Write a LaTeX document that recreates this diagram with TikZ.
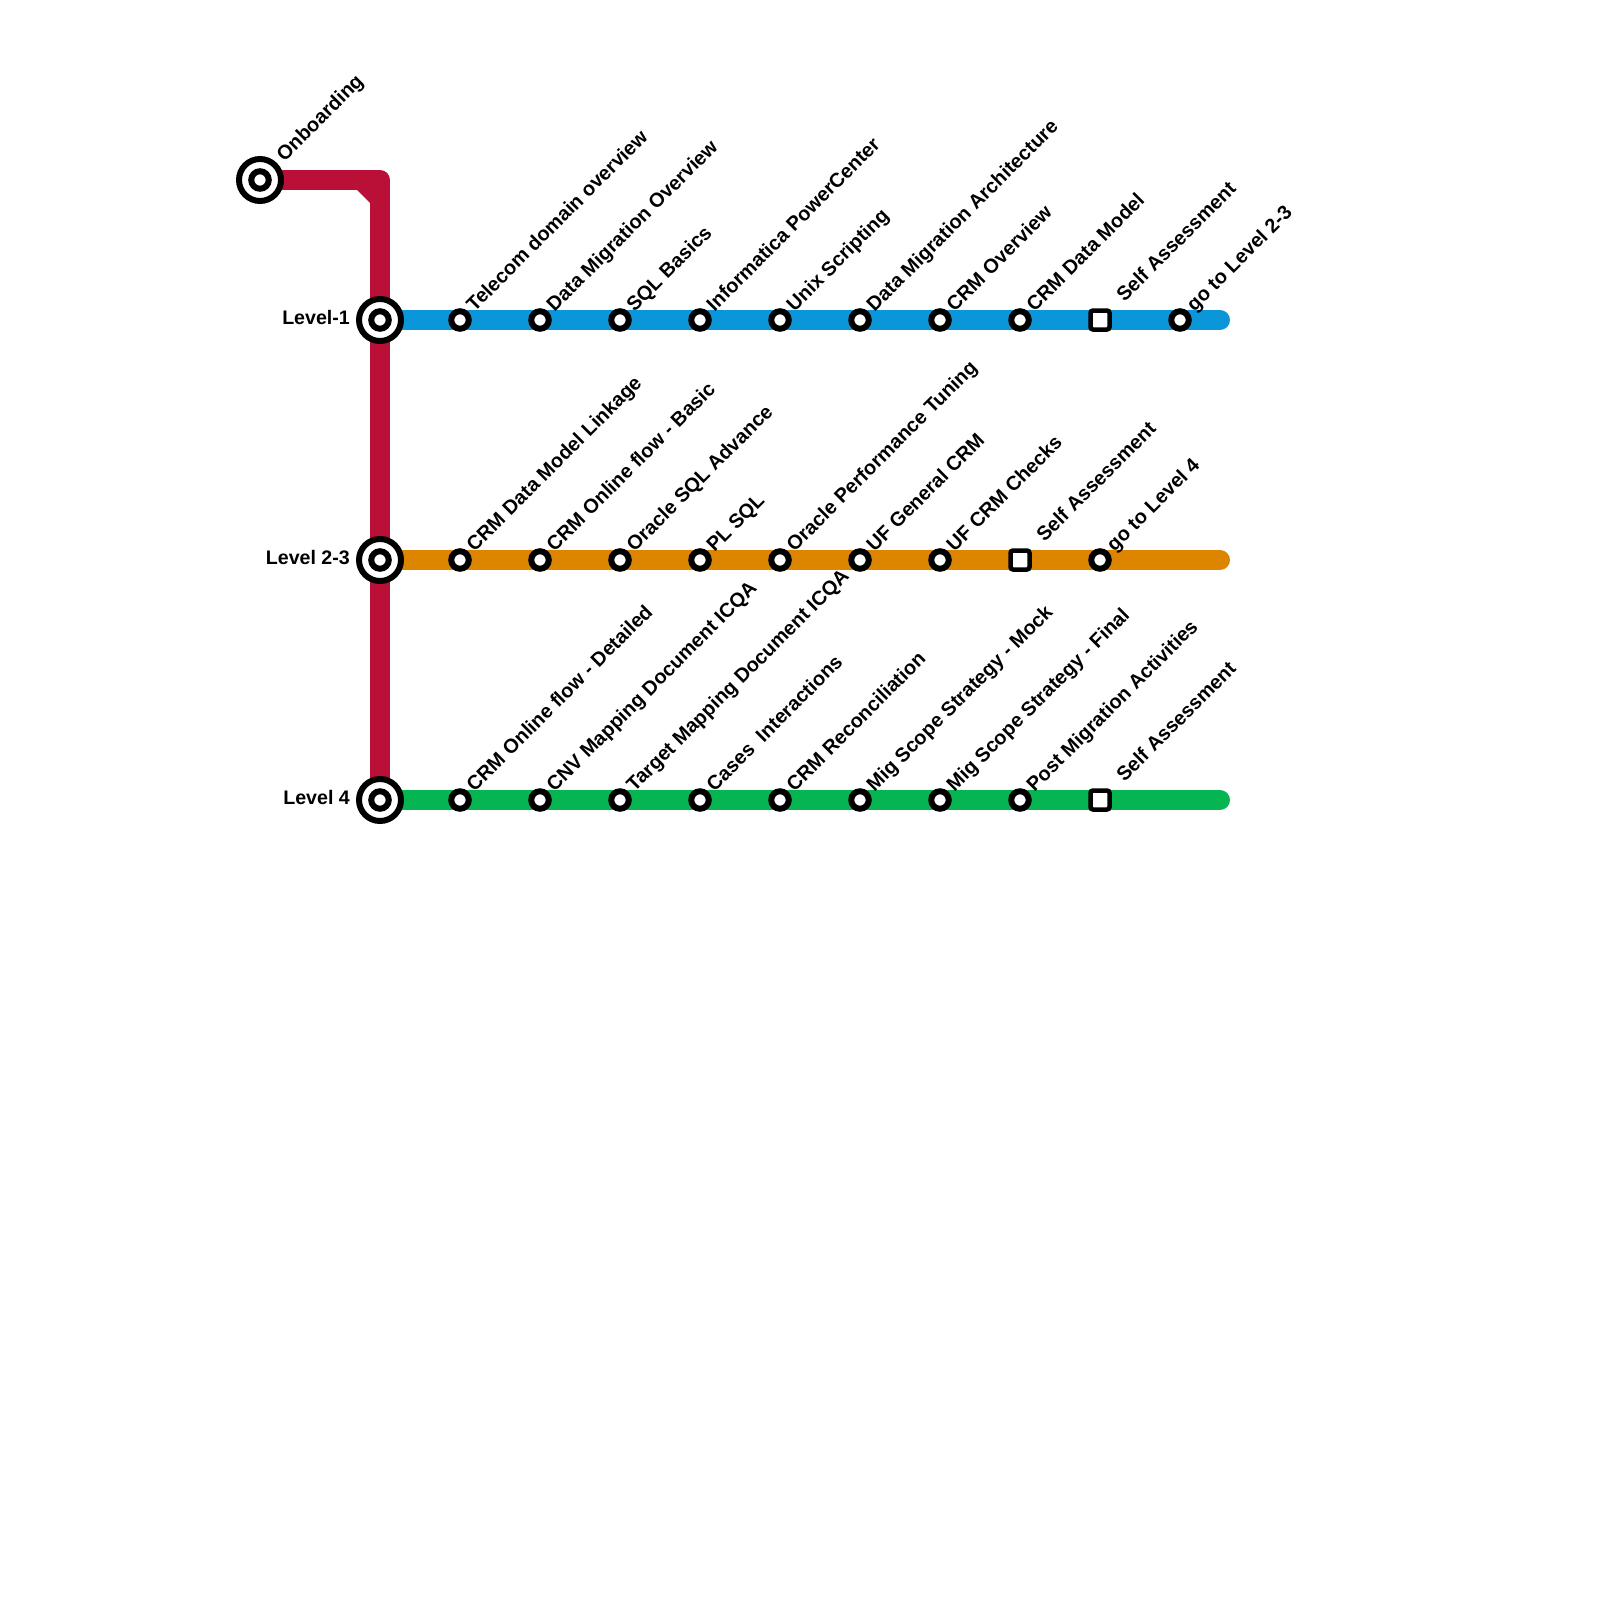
\documentclass[tikz,border=0pt]{standalone}
\usepackage{fontspec}
\setmainfont{Liberation Sans}
\usetikzlibrary{positioning,backgrounds}
\definecolor{levelred}{RGB}{186,16,56}
\definecolor{levelblue}{RGB}{10,150,216}
\definecolor{levelorange}{RGB}{222,133,0}
\definecolor{levelgreen}{RGB}{4,181,82}
\tikzset{
  stop/.style={circle, draw=black, line width=6pt, fill=white, minimum size=17.5pt, inner sep=0pt},
  gate/.style={rectangle, rounded corners=2.5pt, draw=black, line width=4.5pt, fill=white, minimum size=19pt, inner sep=0pt},
  hub/.style={circle, draw=black, line width=6pt, fill=white, minimum size=42pt, inner sep=0pt},
  tag/.style={anchor=base west, rotate=45, inner sep=0pt, xshift=15.5pt, yshift=-5pt, font=\bfseries\fontsize{19.9}{22}\selectfont},
  fartag/.style={tag, xshift=14pt, yshift=0pt},
  hubtag/.style={anchor=base east, inner sep=0pt, xshift=-30pt, yshift=-4pt, font=\bfseries\fontsize{19.6}{22}\selectfont},
  redline/.style={draw=levelred, line width=20pt, line join=round},
  blueline/.style={draw=levelblue, line width=20pt, line cap=round},
  orangeline/.style={draw=levelorange, line width=20pt, line cap=round},
  greenline/.style={draw=levelgreen, line width=20pt, line cap=round}
}

\begin{document}
\begin{tikzpicture}[x=1pt, y=-1pt, node distance=80pt, on grid]
    \useasboundingbox (0,0) rectangle (1600,1600);
    % hubs
    \node[hub] (onb) at (260,180) {};
    \node[hub] (lvla) at (380,320) {};
    \node[hub, below=240pt of lvla] (lvlb) {};
    \node[hub, below=240pt of lvlb] (lvlc) {};
    \node[stop] (onbin) at (onb) {};
    \node[stop] (lvlain) at (lvla) {};
    \node[stop] (lvlbin) at (lvlb) {};
    \node[stop] (lvlcin) at (lvlc) {};
    \node[fartag] (onbt) at (onb) {Onboarding};
    \node[hubtag] (lvlat) at (lvla) {Level-1};
    \node[hubtag] (lvlbt) at (lvlb) {Level 2-3};
    \node[hubtag] (lvlct) at (lvlc) {Level 4};
    % level 1
    \node[stop, right=of lvla] (a1) {};
    \node[stop, right=of a1] (a2) {};
    \node[stop, right=of a2] (a3) {};
    \node[stop, right=of a3] (a4) {};
    \node[stop, right=of a4] (a5) {};
    \node[stop, right=of a5] (a6) {};
    \node[stop, right=of a6] (a7) {};
    \node[stop, right=of a7] (a8) {};
    \node[gate, right=of a8] (a9) {};
    \node[stop, right=of a9] (a10) {};
    \coordinate[right=40pt of a10] (aend);
    \node[tag] (a1t) at (a1) {Telecom domain overview};
    \node[tag] (a2t) at (a2) {Data Migration Overview};
    \node[tag] (a3t) at (a3) {SQL Basics};
    \node[tag] (a4t) at (a4) {Informatica PowerCenter};
    \node[tag] (a5t) at (a5) {Unix Scripting};
    \node[tag] (a6t) at (a6) {Data Migration Architecture};
    \node[tag] (a7t) at (a7) {CRM Overview};
    \node[tag] (a8t) at (a8) {CRM Data Model};
    \node[fartag] (a9t) at (a9) {Self Assessment};
    \node[tag] (a10t) at (a10) {go to Level 2-3};
    % level 2-3
    \node[stop, right=of lvlb] (b1) {};
    \node[stop, right=of b1] (b2) {};
    \node[stop, right=of b2] (b3) {};
    \node[stop, right=of b3] (b4) {};
    \node[stop, right=of b4] (b5) {};
    \node[stop, right=of b5] (b6) {};
    \node[stop, right=of b6] (b7) {};
    \node[gate, right=of b7] (b8) {};
    \node[stop, right=of b8] (b9) {};
    \coordinate[right=120pt of b9] (bend);
    \node[tag] (b1t) at (b1) {CRM Data Model Linkage};
    \node[tag] (b2t) at (b2) {CRM Online flow - Basic};
    \node[tag] (b3t) at (b3) {Oracle SQL Advance};
    \node[tag] (b4t) at (b4) {PL SQL};
    \node[tag] (b5t) at (b5) {Oracle Performance Tuning};
    \node[tag] (b6t) at (b6) {UF General CRM};
    \node[tag] (b7t) at (b7) {UF CRM Checks};
    \node[fartag] (b8t) at (b8) {Self Assessment};
    \node[tag] (b9t) at (b9) {go to Level 4};
    % level 4
    \node[stop, right=of lvlc] (c1) {};
    \node[stop, right=of c1] (c2) {};
    \node[stop, right=of c2] (c3) {};
    \node[stop, right=of c3] (c4) {};
    \node[stop, right=of c4] (c5) {};
    \node[stop, right=of c5] (c6) {};
    \node[stop, right=of c6] (c7) {};
    \node[stop, right=of c7] (c8) {};
    \node[gate, right=of c8] (c9) {};
    \coordinate[right=120pt of c9] (cend);
    \node[tag] (c1t) at (c1) {CRM Online flow - Detailed};
    \node[tag] (c2t) at (c2) {CNV Mapping Document ICQA};
    \node[tag] (c3t) at (c3) {Target Mapping Document ICQA};
    \node[tag] (c4t) at (c4) {Cases\ \ Interactions};
    \node[tag] (c5t) at (c5) {CRM Reconciliation};
    \node[tag] (c6t) at (c6) {Mig Scope Strategy - Mock};
    \node[tag] (c7t) at (c7) {Mig Scope Strategy - Final};
    \node[tag] (c8t) at (c8) {Post Migration Activities};
    \node[fartag] (c9t) at (c9) {Self Assessment};
    % lines go behind the stations
    \begin{scope}[on background layer]
      \draw[blueline] (lvla.center) -- (aend);
      \draw[orangeline] (lvlb.center) -- (bend);
      \draw[greenline] (lvlc.center) -- (cend);
      \draw[redline] (onb.center) -| (lvla.center);
      \draw[redline] (lvla.center) -- (lvlb.center);
      \draw[redline] (lvlb.center) -- (lvlc.center);
      \fill[levelred] (356,189) -- (371,189) -- (371,204) -- cycle;
    \end{scope}
  \end{tikzpicture}
\end{document}
